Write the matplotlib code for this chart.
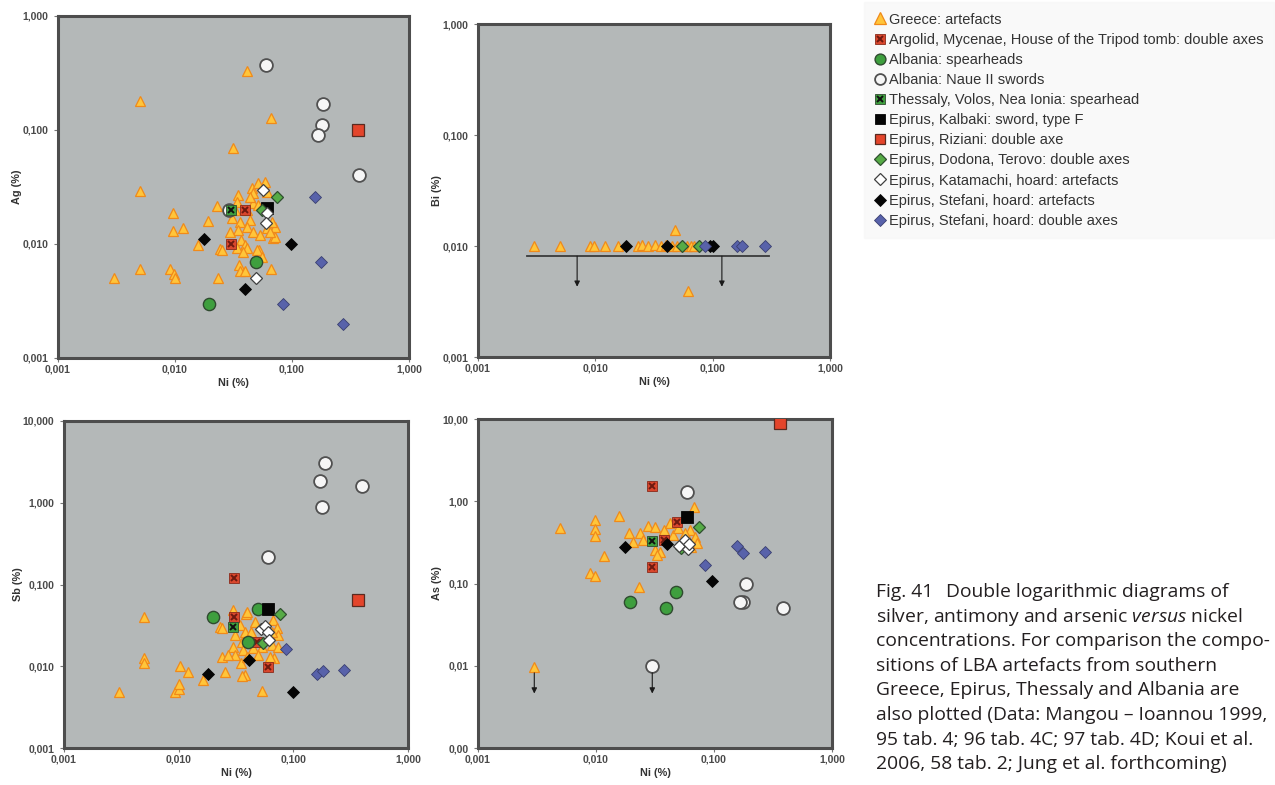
import matplotlib
matplotlib.use('Agg')
import matplotlib.pyplot as plt
from matplotlib.lines import Line2D
from matplotlib.ticker import FixedLocator, FixedFormatter, NullLocator

# =============================================================================
# DATA  (Ni %, element %)
# =============================================================================
# --- Ag vs Ni ---
ag_greece = [(0.041, 0.33), (0.005, 0.18), (0.066, 0.127), (0.031, 0.069), (0.005, 0.029),
             (0.0096, 0.0187), (0.0096, 0.013), (0.0117, 0.0138), (0.019, 0.016), (0.023, 0.0215),
             (0.0157, 0.0098), (0.0243, 0.009), (0.003, 0.005), (0.005, 0.006), (0.009, 0.006),
             (0.0098, 0.0055), (0.010, 0.005), (0.0233, 0.005), (0.035, 0.0065), (0.036, 0.0058),
             (0.040, 0.0058), (0.052, 0.0089), (0.066, 0.006), (0.069, 0.0112), (0.071, 0.014),
             (0.059, 0.035), (0.0345, 0.027), (0.0455, 0.031), (0.046, 0.028), (0.0307, 0.0169),
             (0.036, 0.0156), (0.044, 0.0162), (0.041, 0.014), (0.0345, 0.0133), (0.0295, 0.0128),
             (0.046, 0.0128), (0.053, 0.012), (0.061, 0.0138), (0.071, 0.0115), (0.037, 0.0108),
             (0.040, 0.0098), (0.034, 0.0092), (0.041, 0.0092), (0.038, 0.0085), (0.025, 0.0089),
             (0.050, 0.0089), (0.055, 0.0077), (0.065, 0.0128), (0.067, 0.0156), (0.046, 0.023),
             (0.051, 0.0218), (0.041, 0.020), (0.0325, 0.020), (0.034, 0.0233), (0.044, 0.026),
             (0.061, 0.0285), (0.051, 0.0343)]
ag_argolid = [(0.040, 0.020), (0.030, 0.010)]
ag_alb_spear = [(0.049, 0.007), (0.0195, 0.003)]
ag_alb_naue = [(0.060, 0.37), (0.184, 0.169), (0.180, 0.11), (0.167, 0.09), (0.374, 0.040), (0.029, 0.020)]
ag_thessaly = [(0.030, 0.020)]
ag_kalbaki = [(0.061, 0.0207)]
ag_riziani = [(0.366, 0.100)]
ag_dodona = [(0.055, 0.020), (0.0745, 0.026)]
ag_katamachi = [(0.056, 0.030), (0.061, 0.0187), (0.060, 0.0153), (0.049, 0.005)]
ag_stef_art = [(0.0177, 0.011), (0.098, 0.010), (0.040, 0.004)]
ag_stef_axes = [(0.157, 0.026), (0.178, 0.007), (0.084, 0.003), (0.273, 0.002)]

# --- Bi vs Ni ---
bi_greece = [(0.003, 0.01), (0.005, 0.01), (0.009, 0.01), (0.0097, 0.01), (0.012, 0.01),
             (0.0155, 0.01), (0.023, 0.01), (0.025, 0.0102), (0.028, 0.01), (0.032, 0.0103),
             (0.036, 0.01), (0.040, 0.0102), (0.045, 0.01), (0.050, 0.01), (0.060, 0.01),
             (0.065, 0.0101), (0.070, 0.01), (0.048, 0.014), (0.0617, 0.0039)]
bi_dodona = [(0.055, 0.01), (0.0766, 0.01)]
bi_stef_art = [(0.0183, 0.01), (0.041, 0.01), (0.100, 0.01), (0.095, 0.01)]
bi_stef_axes = [(0.086, 0.01), (0.161, 0.01), (0.178, 0.01), (0.280, 0.01)]
bi_limit = 0.0081
bi_limit_span = (0.0026, 0.30)
bi_arrow_x = [0.007, 0.12]
bi_arrow_end = 0.0043

# --- Sb vs Ni ---
sb_greece = [(0.003, 0.0048), (0.005, 0.040), (0.005, 0.0125), (0.005, 0.011), (0.0103, 0.010),
             (0.012, 0.0086), (0.0093, 0.0048), (0.010, 0.0052), (0.010, 0.006), (0.0164, 0.0068),
             (0.0237, 0.0129), (0.0253, 0.0086), (0.0229, 0.030), (0.038, 0.0078), (0.036, 0.0075),
             (0.053, 0.005), (0.039, 0.044), (0.030, 0.049), (0.068, 0.0125), (0.035, 0.011),
             (0.0392, 0.0465), (0.0237, 0.0291), (0.0342, 0.032), (0.0378, 0.0265), (0.0462, 0.035),
             (0.0668, 0.0368), (0.072, 0.029), (0.074, 0.0241), (0.043, 0.0265), (0.031, 0.024),
             (0.0355, 0.020), (0.0298, 0.0173), (0.0365, 0.0158), (0.0446, 0.0165), (0.0529, 0.0173),
             (0.0648, 0.0181), (0.074, 0.0173), (0.031, 0.0137), (0.0392, 0.0131), (0.0494, 0.0137),
             (0.0625, 0.0131), (0.0648, 0.0265), (0.027, 0.0137), (0.0404, 0.021)]
sb_argolid = [(0.0305, 0.121), (0.0305, 0.0397), (0.060, 0.0099), (0.048, 0.020)]
sb_alb_spear = [(0.0198, 0.040), (0.0494, 0.0497), (0.040, 0.020)]
sb_alb_naue = [(0.189, 3.04), (0.171, 1.86), (0.394, 1.60), (0.178, 0.88), (0.060, 0.22)]
sb_thessaly = [(0.030, 0.030)]
sb_kalbaki = [(0.060, 0.050)]
sb_riziani = [(0.368, 0.065)]
sb_dodona = [(0.0765, 0.043), (0.054, 0.019)]
sb_katamachi = [(0.0523, 0.0284), (0.057, 0.031), (0.060, 0.0265), (0.0615, 0.021)]
sb_stef_art = [(0.0181, 0.008), (0.0413, 0.0119), (0.100, 0.0049)]
sb_stef_axes = [(0.086, 0.0161), (0.160, 0.008), (0.180, 0.0088), (0.278, 0.009)]

# --- As vs Ni ---
as_greece = [(0.00495, 0.477), (0.0098, 0.60), (0.0098, 0.46), (0.0098, 0.38), (0.0158, 0.66),
             (0.0118, 0.216), (0.0089, 0.135), (0.0099, 0.124), (0.0192, 0.41), (0.0233, 0.0915),
             (0.068, 0.86), (0.003, 0.0096), (0.0236, 0.41), (0.0277, 0.50), (0.0316, 0.49),
             (0.0251, 0.338), (0.0316, 0.255), (0.035, 0.244), (0.038, 0.447), (0.045, 0.39),
             (0.050, 0.47), (0.0627, 0.447), (0.069, 0.37), (0.0715, 0.31), (0.064, 0.28),
             (0.033, 0.222), (0.0207, 0.32), (0.042, 0.54), (0.057, 0.41)]
as_argolid = [(0.0297, 1.55), (0.0297, 0.16), (0.049, 0.565), (0.038, 0.338)]
as_alb_spear = [(0.0195, 0.060), (0.0476, 0.079), (0.039, 0.050)]
as_alb_naue = [(0.059, 1.31), (0.187, 0.100), (0.175, 0.060), (0.165, 0.060), (0.382, 0.050), (0.030, 0.010)]
as_thessaly = [(0.030, 0.33)]
as_kalbaki = [(0.059, 0.65)]
as_riziani = [(0.362, 8.9)]
as_dodona = [(0.075, 0.48), (0.053, 0.268)]
as_katamachi = [(0.051, 0.288), (0.060, 0.26), (0.057, 0.34), (0.062, 0.30)]
as_stef_art = [(0.0176, 0.275), (0.040, 0.300), (0.097, 0.107)]
as_stef_axes = [(0.084, 0.168), (0.156, 0.288), (0.177, 0.233), (0.270, 0.240)]
as_arrows = [(0.003, 0.0082, 0.0046), (0.030, 0.0082, 0.0046)]

groups = ['greece', 'argolid', 'alb_spear', 'alb_naue', 'thessaly', 'kalbaki',
          'riziani', 'dodona', 'katamachi', 'stef_art', 'stef_axes']
labels = ['Greece: artefacts',
          'Argolid, Mycenae, House of the Tripod tomb: double axes',
          'Albania: spearheads',
          'Albania: Naue II swords',
          'Thessaly, Volos, Nea Ionia: spearhead',
          'Epirus, Kalbaki: sword, type F',
          'Epirus, Riziani: double axe',
          'Epirus, Dodona, Terovo: double axes',
          'Epirus, Katamachi, hoard: artefacts',
          'Epirus, Stefani, hoard: artefacts',
          'Epirus, Stefani, hoard: double axes']

# marker styles: (marker, size, face, edge, edge width, overlay cross colour, legend size)
styles = {
    'greece':    ('^', 6.8, '#ffc53a', '#f08a1a', 0.9, None, 8.0),
    'argolid':   ('s', 7.5, '#d9472d', '#8a2a1a', 0.6, '#6e1a10', 7.5),
    'alb_spear': ('o', 8.8, '#3e9f3e', '#2f4a2f', 1.0, None, 7.8),
    'alb_naue':  ('o', 9.2, '#f6f6f6', '#505050', 1.3, None, 7.8),
    'thessaly':  ('s', 7.5, '#3e9f3e', '#2f4a2f', 0.6, '#111111', 7.5),
    'kalbaki':   ('s', 9.0, '#050505', '#050505', 0.6, None, 7.5),
    'riziani':   ('s', 8.0, '#e4452b', '#5a2a20', 0.9, None, 7.5),
    'dodona':    ('D', 5.8, '#56ab46', '#2f4f2f', 0.9, None, 6.0),
    'katamachi': ('D', 5.8, '#ffffff', '#404040', 0.9, None, 6.0),
    'stef_art':  ('D', 6.3, '#050505', '#050505', 0.6, None, 6.2),
    'stef_axes': ('D', 6.3, '#5862aa', '#3a3f70', 0.6, None, 6.2),
}

panels = [
    dict(rect=[0.0455, 0.544, 0.2753, 0.4357], ylabel='Ag (%)', ylim=(0.001, 1.0),
         yt=[0.001, 0.01, 0.1, 1.0], ytl=['0,001', '0,010', '0,100', '1,000'],
         data=dict(greece=ag_greece, argolid=ag_argolid, alb_spear=ag_alb_spear, alb_naue=ag_alb_naue,
                   thessaly=ag_thessaly, kalbaki=ag_kalbaki, riziani=ag_riziani, dodona=ag_dodona,
                   katamachi=ag_katamachi, stef_art=ag_stef_art, stef_axes=ag_stef_axes)),
    dict(rect=[0.3749, 0.5452, 0.276, 0.4242], ylabel='Bi (%)', ylim=(0.001, 1.0),
         yt=[0.001, 0.01, 0.1, 1.0], ytl=['0,001', '0,010', '0,100', '1,000'],
         data=dict(greece=bi_greece, dodona=bi_dodona, stef_art=bi_stef_art, stef_axes=bi_stef_axes)),
    dict(rect=[0.0502, 0.0471, 0.2698, 0.4166], ylabel='Sb (%)', ylim=(0.001, 10.0),
         yt=[0.001, 0.01, 0.1, 1.0, 10.0], ytl=['0,001', '0,010', '0,100', '1,000', '10,000'],
         data=dict(greece=sb_greece, argolid=sb_argolid, alb_spear=sb_alb_spear, alb_naue=sb_alb_naue,
                   thessaly=sb_thessaly, kalbaki=sb_kalbaki, riziani=sb_riziani, dodona=sb_dodona,
                   katamachi=sb_katamachi, stef_art=sb_stef_art, stef_axes=sb_stef_axes)),
    dict(rect=[0.3749, 0.0471, 0.2776, 0.4191], ylabel='As (%)', ylim=(0.001, 10.0),
         yt=[0.001, 0.01, 0.1, 1.0, 10.0], ytl=['0,00', '0,01', '0,10', '1,00', '10,00'],
         data=dict(greece=as_greece, argolid=as_argolid, alb_spear=as_alb_spear, alb_naue=as_alb_naue,
                   thessaly=as_thessaly, kalbaki=as_kalbaki, riziani=as_riziani, dodona=as_dodona,
                   katamachi=as_katamachi, stef_art=as_stef_art, stef_axes=as_stef_axes)),
]

xt = [0.001, 0.01, 0.1, 1.0]
xtl = ['0,001', '0,010', '0,100', '1,000']

plt.rcParams['font.family'] = ['Liberation Sans', 'DejaVu Sans']
BG = '#b4b8b8'
TXT = '#4a4a4a'


def draw_group(ax, key, pts):
    mk, ms, fc, ec, mew, cross, _ = styles[key]
    xs = [p[0] for p in pts]
    ys = [p[1] for p in pts]
    ax.plot(xs, ys, ls='none', marker=mk, ms=ms, mfc=fc, mec=ec, mew=mew, zorder=3)
    if cross:
        ax.plot(xs, ys, ls='none', marker='x', ms=ms * 0.6, mec=cross, mew=1.4, zorder=3)


fig = plt.figure(figsize=(12.75, 7.85), dpi=100)

axes = []
for p in panels:
    ax = fig.add_axes(p['rect'])
    ax.set_facecolor(BG)
    ax.set_xscale('log')
    ax.set_yscale('log')
    ax.set_xlim(0.001, 1.0)
    ax.set_ylim(*p['ylim'])
    for key in groups:
        if key in p['data']:
            draw_group(ax, key, p['data'][key])
    ax.xaxis.set_major_locator(FixedLocator(xt))
    ax.xaxis.set_major_formatter(FixedFormatter(xtl))
    ax.yaxis.set_major_locator(FixedLocator(p['yt']))
    ax.yaxis.set_major_formatter(FixedFormatter(p['ytl']))
    ax.xaxis.set_minor_locator(NullLocator())
    ax.yaxis.set_minor_locator(NullLocator())
    ax.tick_params(direction='out', length=3, width=0.8, color='#777777',
                   labelsize=7.5, labelcolor=TXT)
    ax.tick_params(axis='x', pad=2)
    ax.tick_params(axis='y', pad=4)
    for lab in ax.get_xticklabels() + ax.get_yticklabels():
        lab.set_fontweight('bold')
    for s in ax.spines.values():
        s.set_color('#4d4d4d')
        s.set_linewidth(2.2)
    ax.set_xlabel('Ni (%)', fontsize=7.8, fontweight='bold', color='#333333', labelpad=2)
    ax.set_ylabel(p['ylabel'], fontsize=7.8, fontweight='bold', color='#333333', labelpad=0)
    axes.append(ax)

# detection limit line and arrows in the Bi panel
ax_bi = axes[1]
ax_bi.plot(bi_limit_span, [bi_limit, bi_limit], color='#3a3a3a', lw=1.3, zorder=2)
for xa in bi_arrow_x:
    ax_bi.annotate('', xy=(xa, bi_arrow_end), xytext=(xa, bi_limit),
                   arrowprops=dict(arrowstyle='-|>', color='#1a1a1a', lw=0.8,
                                   mutation_scale=8, shrinkA=0, shrinkB=0))

# arrows below the two As values at the limit
ax_as = axes[3]
for xa, y0, y1 in as_arrows:
    ax_as.annotate('', xy=(xa, y1), xytext=(xa, y0),
                   arrowprops=dict(arrowstyle='-|>', color='#1a1a1a', lw=0.8,
                                   mutation_scale=8, shrinkA=0, shrinkB=0))

# =============================================================================
# LEGEND
# =============================================================================
handles = []
for key in groups:
    mk, ms, fc, ec, mew, cross, lms = styles[key]
    base = Line2D([], [], ls='none', marker=mk, ms=lms, mfc=fc, mec=ec, mew=mew)
    if cross:
        handles.append((base, Line2D([], [], ls='none', marker='x', ms=lms * 0.6, mec=cross, mew=1.4)))
    else:
        handles.append(base)

leg = fig.legend(handles, labels, loc='upper left', bbox_to_anchor=(864 / 1275, 1 - 2 / 785),
                 fontsize=10.5, handlelength=0.8, handletextpad=0.2, labelspacing=0.42,
                 borderpad=0.72, frameon=True, fancybox=False, borderaxespad=0)
leg.get_frame().set_facecolor('#f8f8f8')
leg.get_frame().set_edgecolor('#f8f8f8')
for t in leg.get_texts():
    t.set_color('#333333')

# =============================================================================
# CAPTION
# =============================================================================
plt.rcParams['mathtext.fontset'] = 'custom'
plt.rcParams['mathtext.rm'] = 'Open Sans'
plt.rcParams['mathtext.it'] = 'Open Sans:italic'

cap_lines = ['Double logarithmic diagrams of',
             r'silver, antimony and arsenic $\mathit{versus}$ nickel',
             'concentrations. For comparison the compo-',
             'sitions of LBA artefacts from southern',
             'Greece, Epirus, Thessaly and Albania are',
             'also plotted (Data: Mangou \u2013 Ioannou 1999,',
             '95 tab. 4; 96 tab. 4C; 97 tab. 4D; Koui et al.',
             '2006, 58 tab. 2; Jung et al. forthcoming)']
cap_x = 876 / 1275
cap_y0 = 597
cap_dy = 24.6
cap_font = dict(fontsize=13.9, family='Open Sans', color='#231f20', va='baseline', ha='left')
fig.text(cap_x, 1 - cap_y0 / 785, 'Fig. 41', **cap_font)
for i, line in enumerate(cap_lines):
    x = 946 / 1275 if i == 0 else cap_x
    fig.text(x, 1 - (cap_y0 + i * cap_dy) / 785, line, **cap_font)

fig.savefig('out.png', dpi=100, facecolor='white')
